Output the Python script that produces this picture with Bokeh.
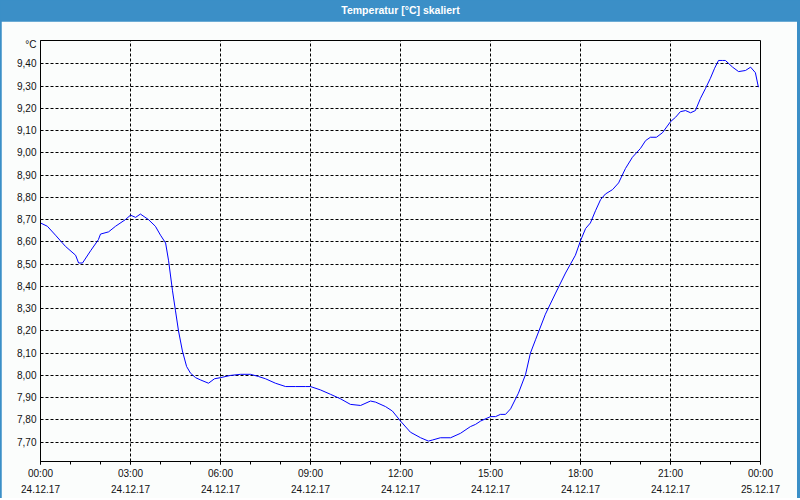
from bokeh.plotting import figure
from bokeh.models import (Range1d, FixedTicker, Label, CustomJSTickFormatter, Spacer)
from bokeh.layouts import column, row
from bokeh.embed import file_html
from bokeh.resources import INLINE

# ---- data (hours since 24.12.17 00:00, temperature in °C) ----
hours = [0.0, 0.23, 0.5, 0.83, 1.17, 1.27, 1.4, 1.67, 1.93, 2.0, 2.27, 2.5, 2.83,
         3.0, 3.17, 3.33, 3.6, 3.83, 4.0, 4.17, 4.27, 4.4, 4.5, 4.6, 4.73, 4.87,
         5.0, 5.17, 5.33, 5.6, 5.8, 6.0, 6.33, 6.67, 7.0, 7.27, 7.5, 7.83, 8.17,
         8.5, 8.83, 9.0, 9.33, 9.67, 10.0, 10.33, 10.67, 11.0, 11.17, 11.5, 11.73,
         12.0, 12.33, 12.67, 12.93, 13.07, 13.33, 13.67, 14.0, 14.33, 14.5, 14.67,
         15.0, 15.17, 15.33, 15.5, 15.67, 15.93, 16.17, 16.33, 16.5, 16.83, 17.17,
         17.5, 17.83, 18.0, 18.17, 18.33, 18.5, 18.67, 18.83, 19.07, 19.27, 19.5,
         19.73, 20.0, 20.17, 20.33, 20.53, 20.73, 21.0, 21.17, 21.33, 21.5, 21.67,
         21.83, 22.0, 22.17, 22.33, 22.47, 22.6, 22.73, 22.83, 23.07, 23.27, 23.5,
         23.67, 23.83, 23.93]
temps = [8.685, 8.67, 8.63, 8.58, 8.54, 8.505, 8.505, 8.56, 8.61, 8.635, 8.645,
         8.67, 8.70, 8.72, 8.71, 8.725, 8.70, 8.67, 8.63, 8.595, 8.515, 8.38,
         8.29, 8.20, 8.11, 8.04, 8.01, 7.99, 7.98, 7.965, 7.985, 7.99, 8.00,
         8.005, 8.005, 7.995, 7.985, 7.965, 7.95, 7.95, 7.95, 7.95, 7.935, 7.915,
         7.895, 7.87, 7.865, 7.885, 7.88, 7.86, 7.84, 7.795, 7.745, 7.72, 7.705,
         7.71, 7.72, 7.72, 7.74, 7.77, 7.78, 7.795, 7.815, 7.815, 7.825, 7.825,
         7.85, 7.92, 8.005, 8.10, 8.16, 8.275, 8.37, 8.46, 8.54, 8.605, 8.66,
         8.685, 8.74, 8.79, 8.815, 8.835, 8.865, 8.93, 8.98, 9.02, 9.055, 9.07,
         9.07, 9.09, 9.14, 9.16, 9.185, 9.19, 9.18, 9.19, 9.245, 9.29, 9.335,
         9.38, 9.415, 9.415, 9.415, 9.385, 9.365, 9.37, 9.385, 9.36, 9.295]

x_ticks = [0, 3, 6, 9, 12, 15, 18, 21, 24]
time_labels = ["00:00", "03:00", "06:00", "09:00", "12:00", "15:00", "18:00", "21:00", "00:00"]
date_labels = ["24.12.17"] * 8 + ["25.12.17"]
y_ticks = [7.7, 7.8, 7.9, 8.0, 8.1, 8.2, 8.3, 8.4, 8.5, 8.6, 8.7, 8.8, 8.9,
           9.0, 9.1, 9.2, 9.3, 9.4]
unit_pos = 9.487          # where the unit sign sits on the value axis
title_text = "Temperatur [°C] skaliert"
unit_text = "°C"
y_lo, y_hi = 7.6133, 9.5047

BLUE = "#3b8fc7"
BG = "#fbfdfc"
FONT = "Liberation Sans"

# ---- title bar ----
top = figure(width=800, height=21, x_range=Range1d(0, 1), y_range=Range1d(0, 1),
             output_backend="svg", toolbar_location=None, min_border=0)
top.axis.visible = False
top.grid.visible = False
top.outline_line_color = None
top.background_fill_color = BLUE
top.border_fill_color = BLUE
top.add_layout(Label(x=0.5, y=0.5, text=title_text, text_align="center",
                     text_baseline="middle", text_color="white",
                     text_font=FONT, text_font_size="10.5px",
                     text_font_style="bold", y_offset=1))

# ---- main plot ----
p = figure(frame_width=720, frame_height=421,
           x_range=Range1d(0, 24), y_range=Range1d(y_lo, y_hi),
           output_backend="svg", toolbar_location=None,
           min_border_left=39, min_border_right=37,
           min_border_top=19, min_border_bottom=36)
p.background_fill_color = BG
p.border_fill_color = BG
p.outline_line_color = "black"
p.outline_line_width = 1

p.line(hours, temps, line_color="#0000ff", line_width=1)

xaxis = p.xaxis[0]
xaxis.ticker = FixedTicker(ticks=x_ticks, minor_ticks=list(range(25)))
xaxis.major_label_overrides = {t: f"{a}\n{b}" for t, a, b in zip(x_ticks, time_labels, date_labels)}
xaxis.major_tick_in = 0
xaxis.major_tick_out = 3
xaxis.minor_tick_in = 0
xaxis.minor_tick_out = 3
xaxis.major_label_standoff = 3
xaxis.major_label_text_font = FONT
xaxis.major_label_text_font_size = "10px"
xaxis.major_label_text_color = "#111111"
xaxis.major_label_text_line_height = 1.5
xaxis.axis_line_color = "black"
xaxis.major_tick_line_color = "black"
xaxis.minor_tick_line_color = "black"

yaxis = p.yaxis[0]
yaxis.ticker = FixedTicker(ticks=y_ticks + [unit_pos])
yaxis.formatter = CustomJSTickFormatter(
    args=dict(unit=unit_text),
    code="return tick > 9.45 ? unit : tick.toFixed(2).replace('.', ',');")
yaxis.major_tick_in = 0
yaxis.major_tick_out = 0
yaxis.minor_tick_in = 0
yaxis.minor_tick_out = 0
yaxis.major_label_standoff = 4
yaxis.major_label_text_font = FONT
yaxis.major_label_text_font_size = "10px"
yaxis.major_label_text_color = "#111111"
yaxis.axis_line_color = "black"

p.xgrid.ticker = FixedTicker(ticks=x_ticks[1:-1])
p.ygrid.ticker = FixedTicker(ticks=y_ticks)
for g in (p.xgrid[0], p.ygrid[0]):
    g.grid_line_color = "black"
    g.grid_line_dash = "3 2"
    g.grid_line_width = 1

layout = column(top, row(Spacer(width=1, height=476), p, spacing=0), spacing=0,
                styles={"background-color": BLUE})

open("out.html", "w").write(file_html(layout, INLINE))
